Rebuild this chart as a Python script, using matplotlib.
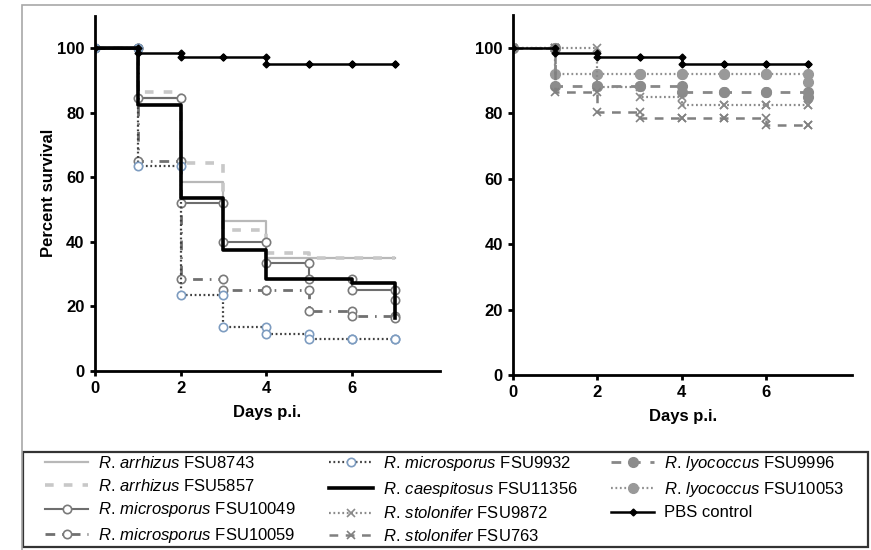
#!/usr/bin/env python3
# -*- coding:utf-8 -*-
import matplotlib
matplotlib.use("Agg")
import matplotlib.pyplot as plt
from matplotlib.patches import Rectangle

plt.rcParams['font.family'] = ['Liberation Sans', 'DejaVu Sans']
plt.rcParams['mathtext.fontset'] = 'custom'
plt.rcParams['mathtext.it'] = 'Liberation Sans:italic'
plt.rcParams['mathtext.rm'] = 'Liberation Sans'

# 感染后天数
days = [0, 1, 2, 3, 4, 5, 6, 7]

# 左图: 存活率 (%)
arrhizus_8743 = [100, 84.5, 58.5, 46.5, 35, 35, 35, 35]
arrhizus_5857 = [100, 86.5, 64.5, 43.5, 36.5, 35, 35, 35]
microsporus_10049 = [100, 84.5, 52, 40, 33.5, 28.5, 25, 22]
microsporus_10059 = [100, 65, 28.5, 25, 25, 18.5, 17, 16.5]
microsporus_9932 = [100, 63.5, 23.5, 13.5, 11.5, 10, 10, 10]
caespitosus_11356 = [100, 82.5, 53.5, 37.5, 28.5, 28.5, 27.3, 16.5]
pbs_control = [100, 98.5, 97.3, 97.3, 95, 95, 95, 95]

# 右图: 存活率 (%)
lyococcus_10053 = [100, 92, 92, 92, 92, 92, 92, 89.5]
lyococcus_9996 = [100, 88.5, 88.5, 88.5, 86.5, 86.5, 86.5, 85]
stolonifer_9872 = [100, 100, 88, 85, 82.5, 82.5, 82.5, 82.5]
stolonifer_763 = [100, 86.5, 80.5, 78.5, 78.5, 78.5, 76.5, 76.5]

x_ticks = [0, 2, 4, 6]
y_ticks = [0, 20, 40, 60, 80, 100]


def lab(species, strain):
    return r'$\mathit{' + species.replace(' ', r'\,') + '}$ ' + strain


def step_xy(x, y):
    # 阶梯曲线的顶点, 每个转折点前后都有一个标记
    xs, ys = [x[0]], [y[0]]
    for i in range(1, len(x)):
        xs += [x[i], x[i]]
        ys += [y[i - 1], y[i]]
    return xs, ys


def km(ax, vals, **kw):
    xs, ys = step_xy(days, vals)
    line, = ax.plot(xs, ys, **kw)
    return line


def setup_axes(ax):
    for s in ['top', 'right']:
        ax.spines[s].set_visible(False)
    for s in ['left', 'bottom']:
        ax.spines[s].set_linewidth(2.0)
    ax.set_xlim(0, 8.05)
    ax.set_ylim(0, 110)
    ax.set_xticks(x_ticks)
    ax.set_yticks(y_ticks)
    ax.tick_params(direction='out', length=3.5, width=2, labelsize=12, pad=4)
    for t in ax.get_xticklabels() + ax.get_yticklabels():
        t.set_fontweight('bold')
    ax.set_xlabel('Days p.i.', fontsize=12, fontweight='bold', labelpad=6)


fig = plt.figure(figsize=(8.71, 5.5), dpi=100)

ax1 = fig.add_axes([0.1091, 0.3255, 0.3956, 0.646])
ax2 = fig.add_axes([0.5893, 0.3182, 0.3891, 0.654])

# 左图
h = {}
h['8743'] = km(ax1, arrhizus_8743, color='#b8b8b8', lw=1.6,
               label=lab('R. arrhizus', 'FSU8743'))
h['5857'] = km(ax1, arrhizus_5857, color='#c8c8c8', lw=2.6, ls=(0, (2.4, 2.8)),
               label=lab('R. arrhizus', 'FSU5857'))
h['10049'] = km(ax1, microsporus_10049, color='#6e6e6e', lw=1.5, marker='o', ms=6,
                mfc='white', mec='#7a7a7a', mew=1.2,
                label=lab('R. microsporus', 'FSU10049'))
h['10059'] = km(ax1, microsporus_10059, color='#707070', lw=2.0, ls=(0, (3.5, 2.5, 0.6, 2.5)),
                marker='o', ms=6, mfc='white', mec='#7a7a7a', mew=1.2,
                label=lab('R. microsporus', 'FSU10059'))
h['9932'] = km(ax1, microsporus_9932, color='#404040', lw=1.6, ls=(0, (0.8, 1.2)),
               marker='o', ms=6, mfc='white', mec='#7d9cc0', mew=1.2,
               label=lab('R. microsporus', 'FSU9932'))
h['11356'] = km(ax1, caespitosus_11356, color='black', lw=2.6,
                label=lab('R. caespitosus', 'FSU11356'))
h['pbs'] = km(ax1, pbs_control, color='black', lw=1.8, marker='D', ms=3.5,
              label='PBS control')

# 右图
h['10053'] = km(ax2, lyococcus_10053, color='#909090', lw=1.6, ls=(0, (0.8, 1.2)),
                marker='o', ms=7, mfc='#999999', mec='#999999',
                label=lab('R. lyococcus', 'FSU10053'))
h['9996'] = km(ax2, lyococcus_9996, color='#888888', lw=2.0, ls=(0, (3.5, 3.5)),
               marker='o', ms=7, mfc='#8c8c8c', mec='#8c8c8c',
               label=lab('R. lyococcus', 'FSU9996'))
h['9872'] = km(ax2, stolonifer_9872, color='#8a8a8a', lw=1.6, ls=(0, (0.8, 1.2)),
               marker='x', ms=6, mew=1.2,
               label=lab('R. stolonifer', 'FSU9872'))
h['763'] = km(ax2, stolonifer_763, color='#808080', lw=1.8, ls=(0, (3.5, 3.0)),
              marker='x', ms=6, mew=1.2,
              label=lab('R. stolonifer', 'FSU763'))
km(ax2, pbs_control, color='black', lw=1.8, marker='D', ms=3.5)

setup_axes(ax1)
setup_axes(ax2)
ax1.set_ylabel('Percent survival', fontsize=12, fontweight='bold', labelpad=1)

# 图例 (列优先: 4, 4, 3)
order = ['8743', '5857', '10049', '10059',
         '9932', '11356', '9872', '763',
         '9996', '10053', 'pbs']
handles = [h[k] for k in order]
fig.legend(handles=handles, labels=[x.get_label() for x in handles],
           loc='upper left', bbox_to_anchor=(45 / 871, 1 - 454 / 550),
           ncol=3, fontsize=12, frameon=False, borderpad=0, borderaxespad=0,
           handlelength=2.6, handletextpad=0.6, columnspacing=2.0,
           labelspacing=0.4, numpoints=1)

# 图例外框和整图边框
fig.patches.append(Rectangle((23 / 871, 3 / 550), 845 / 871, 95 / 550,
                             transform=fig.transFigure, fill=False,
                             edgecolor='#333333', lw=1.6))
fig.patches.append(Rectangle((22 / 871, -0.05), 1.0, 1.05 - 5 / 550,
                             transform=fig.transFigure, fill=False,
                             edgecolor='#a8a8a8', lw=1.2))

fig.savefig('out.png', dpi=100)
